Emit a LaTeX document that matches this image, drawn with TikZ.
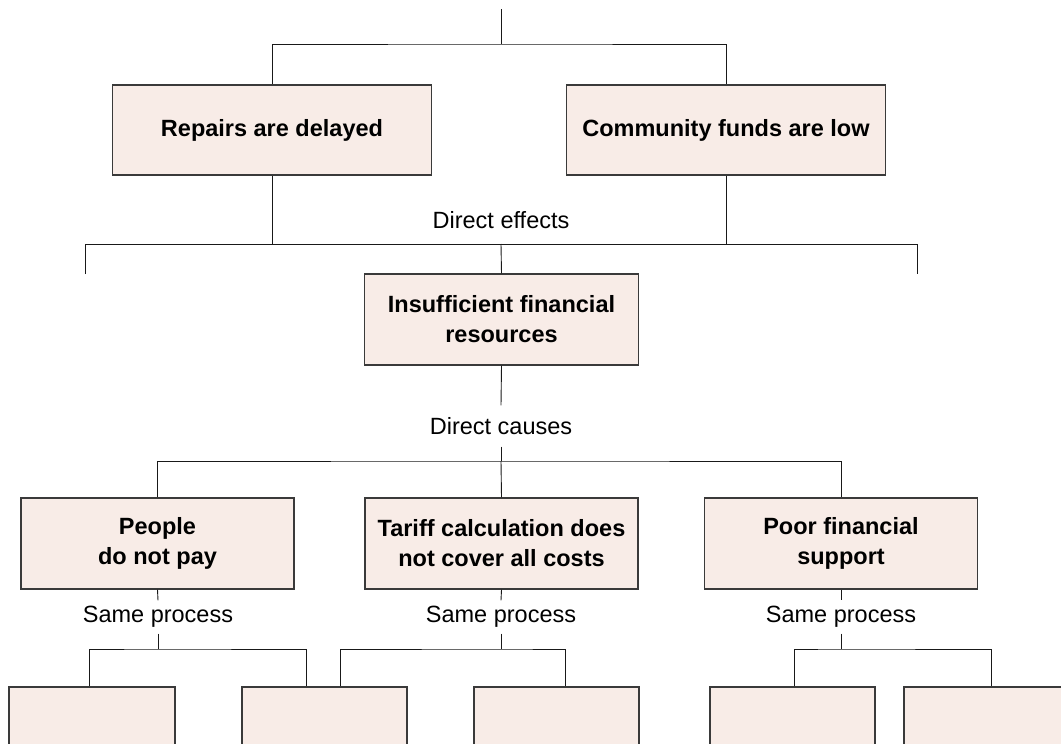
\documentclass[tikz,border=0pt]{standalone}
\usepackage{fontspec}
\setmainfont{Liberation Sans}
\definecolor{boxfill}{HTML}{F8ECE7}
\definecolor{boxline}{HTML}{3A3A3A}
\tikzset{
  box/.style={draw=boxline, line width=1.3pt, fill=boxfill, align=center,
    font=\fontsize{23.5}{30}\selectfont\bfseries, inner sep=0pt},
  bigbox/.style={box, minimum width=319pt, minimum height=90pt},
  midbox/.style={box, minimum width=273pt, minimum height=91pt},
  lowbox/.style={box, minimum width=165pt, minimum height=100pt},
  conn/.style={draw=black!90, line width=0.9pt},
  lbl/.style={font=\fontsize{23.5}{28}\selectfont, inner sep=0pt}
}
\begin{document}
\begin{tikzpicture}[x=1pt,y=-1pt]
\useasboundingbox (0,0) rectangle (1061,744);
\clip (0,0) rectangle (1061,744);

% top level
\node[bigbox] (e1) at (272,130) {Repairs are delayed};
\node[bigbox] (e2) at (726,130) {Community funds are low};
\coordinate (top) at (501,9);
\coordinate (j1) at (501,44);
\draw[conn] (top) -- (j1);
\draw[conn] (e1.north) |- (j1) -| (e2.north);

% direct effects
\node[lbl] (de) at (501,220) {Direct effects};
\coordinate (j2) at (501,244);
\coordinate (tl) at (85,274);
\coordinate (tr) at (917,274);
\node[midbox, minimum width=274pt] (c) at (501.5,319.5) {Insufficient financial\\resources};
\draw[conn] (tl) -- (tl |- j2) -- (tr |- j2) -- (tr);
\draw[conn] (e1.south) -- (e1.south |- j2);
\draw[conn] (e2.south) -- (e2.south |- j2);
\draw[conn] (j2) -- (c.north);

% direct causes
\node[lbl, outer ysep=12pt] (dc) at (501,426) {Direct causes};
\coordinate (j3) at (501,461);
\draw[conn] (c.south) -- (dc.north);
\draw[conn] (dc.south) -- (j3);
\node[midbox] (r1) at (157.5,543.5) {People\\do not pay};
\node[midbox] (r2) at (501.5,543.5) {Tariff calculation does\\not cover all costs};
\node[midbox] (r3) at (841,543.5) {Poor financial\\support};
\draw[conn] (r1.north) |- (j3) -| (r3.north);
\draw[conn] (j3) -- (r2.north);

% same process
\node[lbl, outer ysep=6pt] (sp1) at (158,617) {Same process};
\node[lbl, outer ysep=6pt] (sp2) at (501,617) {Same process};
\node[lbl, outer ysep=6pt] (sp3) at (841,617) {Same process};
\draw[conn] (r1.south) -- (sp1.north);
\draw[conn] (r2.south) -- (sp2.north);
\draw[conn] (r3.south) -- (sp3.north);
\coordinate (g1) at (158,649);
\coordinate (g2) at (501,649);
\coordinate (g3) at (841,649);
\draw[conn] (sp1.south) -- (g1);
\draw[conn] (sp2.south) -- (g2);
\draw[conn] (sp3.south) -- (g3);

% bottom boxes (cut off by the page edge)
\node[lowbox, minimum width=166pt] (b1) at (92,737) {};
\node[lowbox] (b2) at (324.5,737) {};
\node[lowbox] (b3) at (556.5,737) {};
\node[lowbox] (b4) at (792.5,737) {};
\node[lowbox] (b5) at (986.5,737) {};
\draw[conn] ([xshift=-3pt]b1.north) |- (g1) -| ([xshift=-18.5pt]b2.north);
\draw[conn] ([xshift=15.5pt]b2.north) |- (g2) -| ([xshift=8.5pt]b3.north);
\draw[conn] ([xshift=1.5pt]b4.north) |- (g3) -| ([xshift=4.5pt]b5.north);
\end{tikzpicture}
\end{document}
